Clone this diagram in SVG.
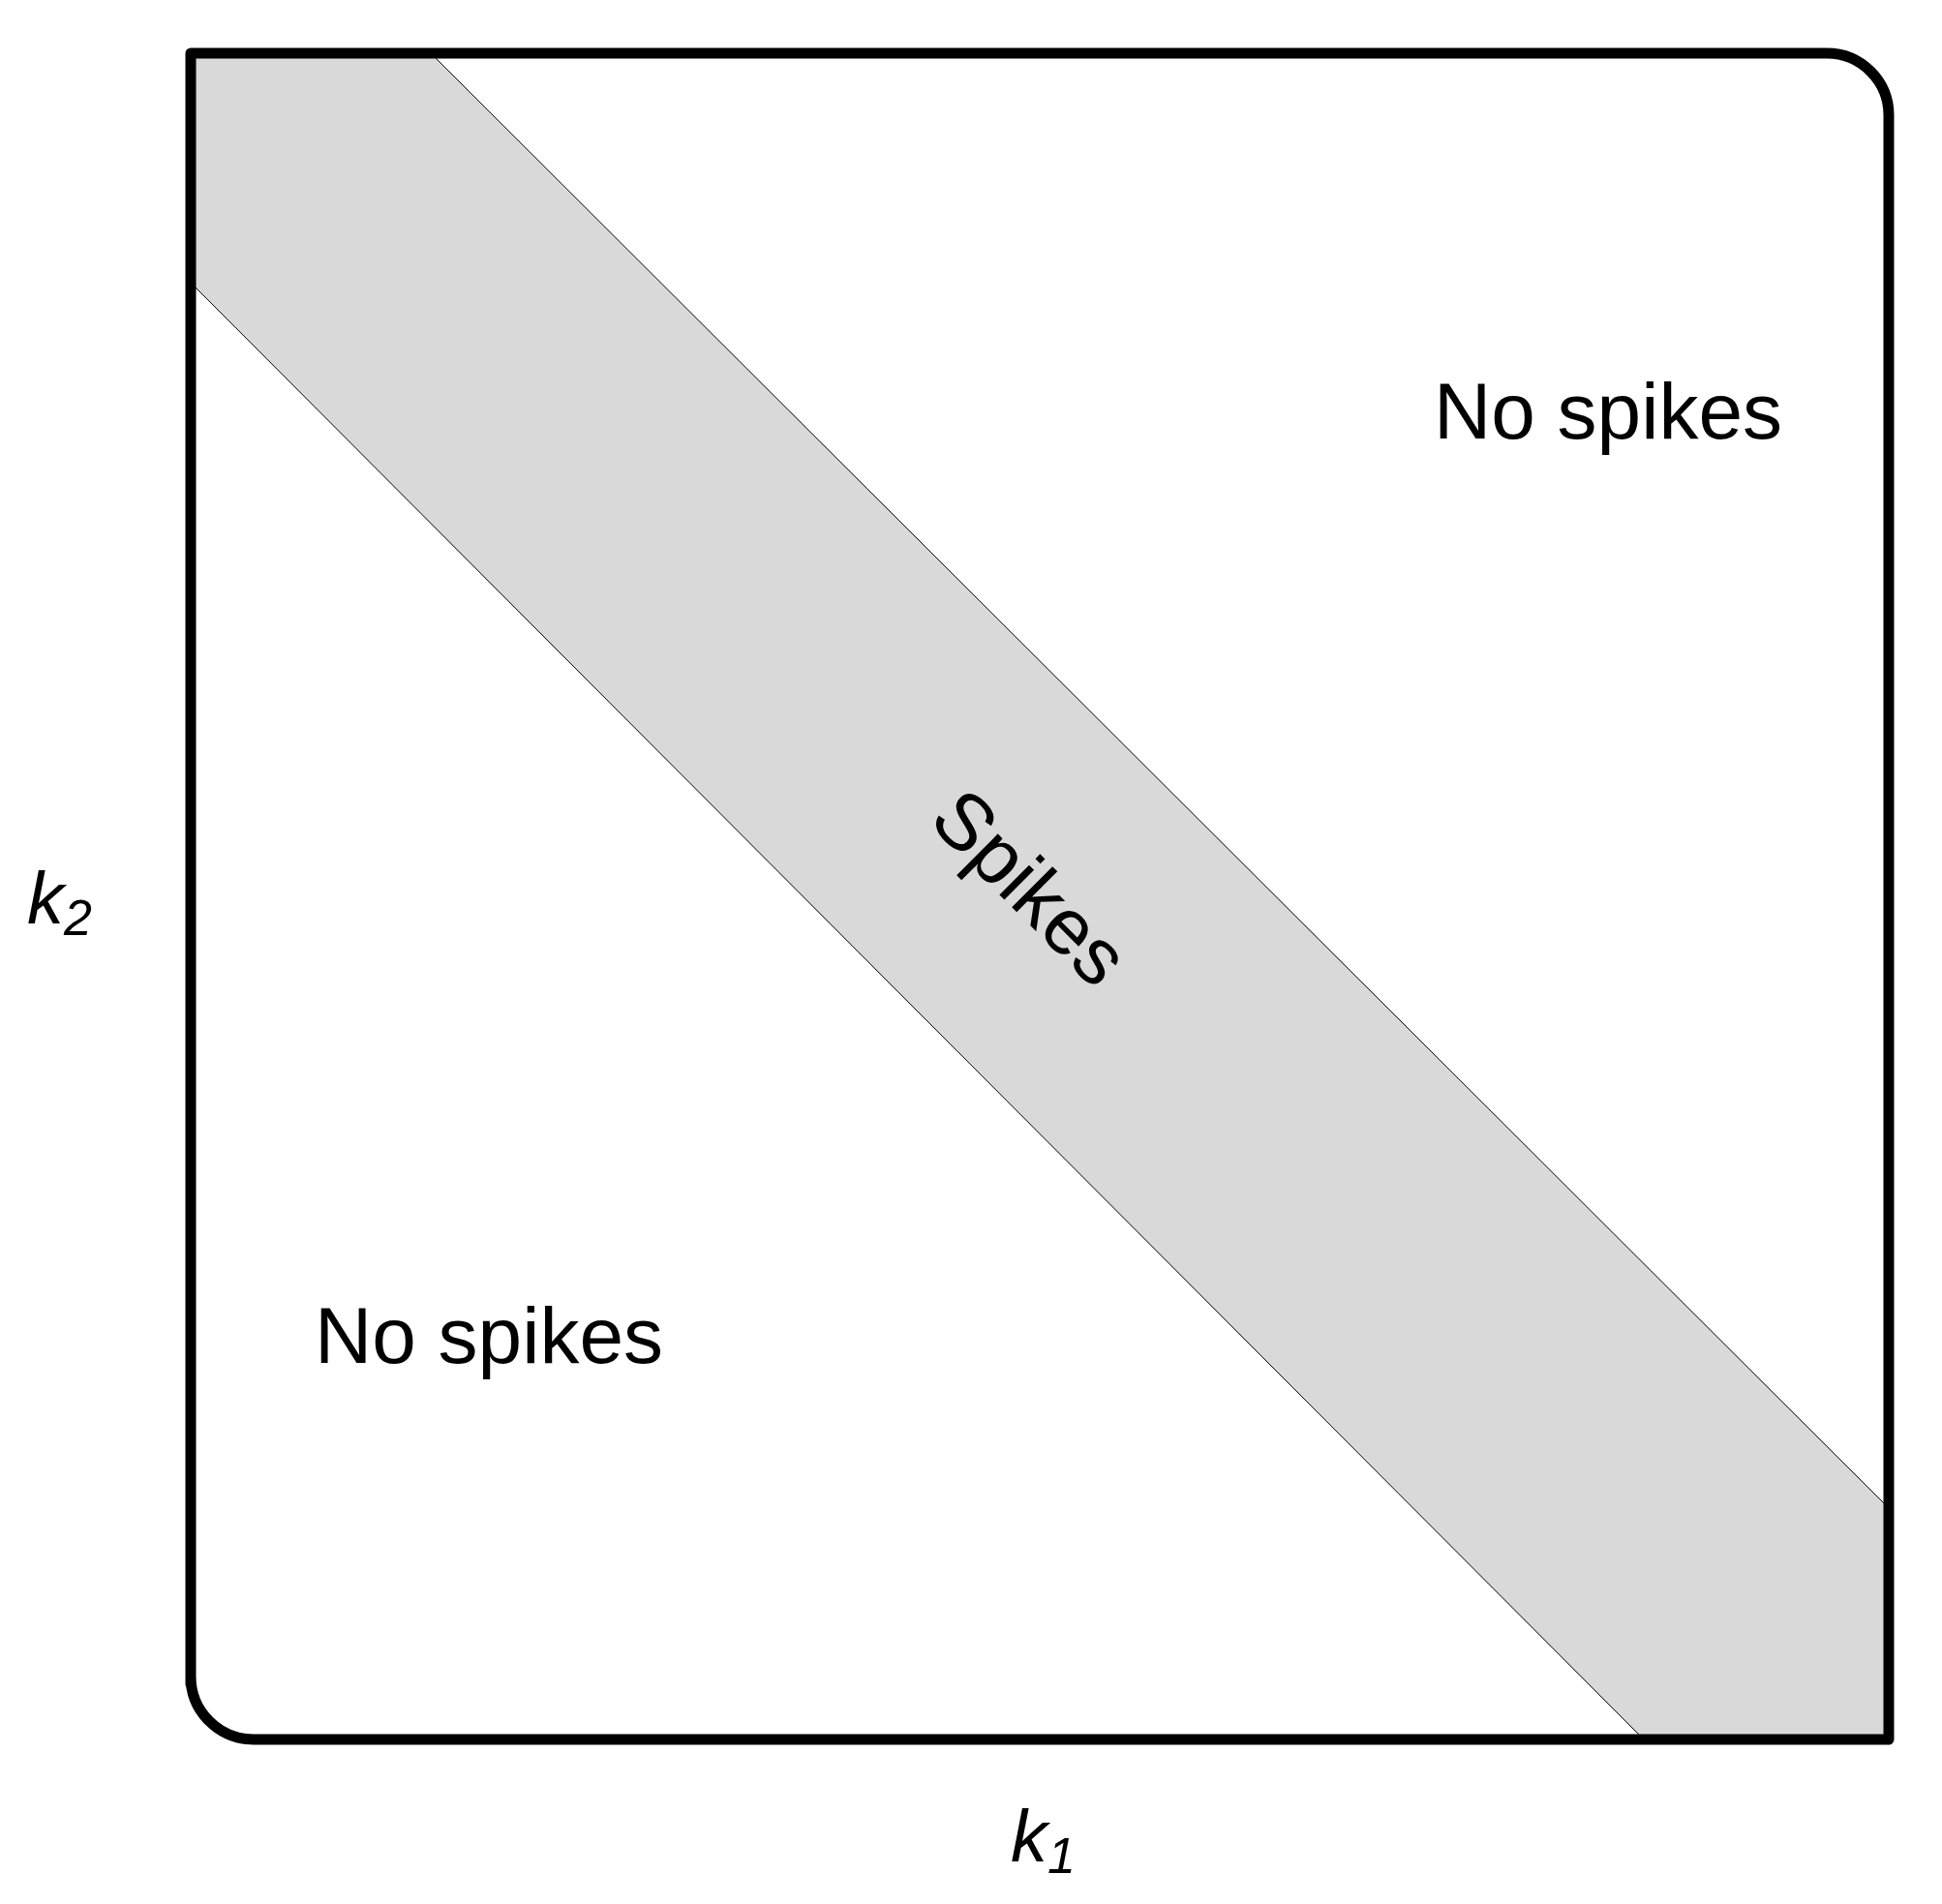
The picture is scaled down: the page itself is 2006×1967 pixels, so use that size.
<svg xmlns="http://www.w3.org/2000/svg" width="2006" height="1967" viewBox="0 0 2006 1967">
<style>
text{font-family:"Liberation Sans",Arial,sans-serif;fill:#000}
.lbl{font-size:82px}
.ax{font-size:76px;font-style:italic}
</style>
<rect width="2006" height="1967" fill="#fff"/>
<g id="band">
<polygon points="201,60 450,60 1951,1558 1951,1797 1698,1797 201,296" fill="#d9d9d9"/>
</g>
<g id="connectors">
<line x1="450" y1="60" x2="1951" y2="1558" stroke="#000" stroke-width="1"/>
<line x1="201" y1="296" x2="1698" y2="1797" stroke="#000" stroke-width="1"/>
</g>
<g id="frame">
<path d="M197,1740 V55 H1887 A64,64 0 0 1 1951,119 V1797 H262 A65,65 0 0 1 197,1732 Z" fill="none" stroke="#000" stroke-width="11" stroke-linejoin="round"/>
</g>
<g id="region-top"><text class="lbl" x="1481" y="453">No spikes</text></g>
<g id="region-bottom"><text class="lbl" x="325" y="1408">No spikes</text></g>
<g id="region-band"><text class="lbl" x="0" y="0" text-anchor="middle" transform="translate(1065,916) rotate(45) translate(0,29)">Spikes</text></g>
<g id="axis-y"><text class="ax" x="28" y="954">k<tspan font-size="52" dy="12">2</tspan></text></g>
<g id="axis-x"><text class="ax" x="1044" y="1923">k<tspan font-size="52" dy="12">1</tspan></text></g>
</svg>
